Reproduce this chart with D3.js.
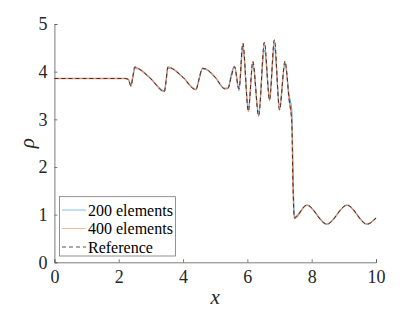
<!DOCTYPE html>
<html>
<head>
<meta charset="utf-8">
<script src="https://cdn.jsdelivr.net/npm/d3@7"></script>
<style>
  html, body { margin: 0; padding: 0; background: #fff; }
  svg { display: block; }
</style>
</head>
<body>
<svg id="chart" width="415" height="312" font-family="Liberation Serif"></svg>
<script>
// ---- data ----
const xs = [0, 2.2, 2.3, 2.38, 2.44, 2.5, 2.6, 3.0, 3.42, 3.47, 3.53, 3.62, 4.0, 4.4, 4.5, 4.6, 4.7, 5.0, 5.3, 5.4, 5.5, 5.6, 5.74, 5.86, 6.03, 6.17, 6.35, 6.53, 6.69, 6.84, 7.0, 7.17, 7.3, 7.38, 7.42, 7.46, 7.85, 8.47, 9.1, 9.72, 10];
const rhoRef = [3.857, 3.857, 3.84, 3.70, 3.90, 4.10, 4.07, 3.85, 3.58, 3.80, 4.10, 4.08, 3.88, 3.62, 3.85, 4.07, 4.06, 3.88, 3.64, 3.65, 3.90, 4.10, 3.64, 4.60, 3.17, 4.22, 3.07, 4.62, 3.40, 4.67, 3.20, 4.22, 3.40, 2.95, 1.60, 0.93, 1.20, 0.80, 1.20, 0.80, 0.93];
const rho400 = [3.857, 3.857, 3.84, 3.69, 3.90, 4.10, 4.07, 3.85, 3.58, 3.80, 4.10, 4.08, 3.88, 3.62, 3.85, 4.07, 4.06, 3.88, 3.64, 3.65, 3.90, 4.11, 3.63, 4.58, 3.16, 4.21, 3.06, 4.61, 3.39, 4.66, 3.19, 4.21, 3.40, 2.98, 1.55, 0.92, 1.20, 0.80, 1.20, 0.80, 0.93];
const rho200 = [3.857, 3.857, 3.83, 3.72, 3.88, 4.06, 4.06, 3.85, 3.60, 3.78, 4.07, 4.07, 3.88, 3.63, 3.84, 4.06, 4.05, 3.88, 3.65, 3.66, 3.95, 4.12, 3.60, 4.50, 3.25, 4.15, 3.15, 4.45, 3.50, 4.50, 3.30, 4.15, 3.50, 3.20, 2.00, 0.95, 1.20, 0.80, 1.20, 0.80, 0.93];
const xTicks = [0, 2, 4, 6, 8, 10];
const yTicks = [0, 1, 2, 3, 4, 5];
const seriesNames = ["200 elements", "400 elements", "Reference"];

// ---- layout ----
const svg = d3.select("#chart");
const L = 54.4, R = 376, T = 24, B = 262.3;
const x = d3.scaleLinear().domain([0, 10]).range([L, R]);
const y = d3.scaleLinear().domain([0, 5]).range([B, T]);
const font = "Liberation Serif";
const axisColor = "#5a5a5a";

// axes
const gx = svg.append("g").attr("transform", `translate(0,${B})`)
  .call(d3.axisBottom(x).tickValues(xTicks).tickSize(-3).tickPadding(8).tickFormat(d3.format("d")));
const gy = svg.append("g").attr("transform", `translate(${L},0)`)
  .call(d3.axisLeft(y).tickValues(yTicks).tickSize(-3).tickPadding(7).tickFormat(d3.format("d")));
[gx, gy].forEach(g => {
  g.attr("font-family", font).attr("font-size", 18);
  g.select(".domain").attr("stroke", axisColor).attr("stroke-width", 0.8);
  g.selectAll(".tick line").attr("stroke", axisColor).attr("stroke-width", 0.8);
  g.selectAll(".tick text").attr("fill", "#262626").attr("font-family", font).attr("font-size", 18);
});

// axis labels
svg.append("text").attr("x", (L + R) / 2).attr("y", 304)
  .attr("text-anchor", "middle").attr("font-family", font).attr("font-style", "italic")
  .attr("font-size", 21).attr("fill", "#262626").text("x");
svg.append("text").attr("transform", `translate(34,${(T + B) / 2}) rotate(-90)`)
  .attr("text-anchor", "middle").attr("font-family", font).attr("font-style", "italic")
  .attr("font-size", 21).attr("fill", "#262626").text("ρ");

// lines
const line = d3.line().curve(d3.curveMonotoneX);
const mk = arr => xs.map((v, i) => [x(v), y(arr[i])]);
const styles = [
  { data: rho200, stroke: "#4da6e0", width: 1.1, dash: null },
  { data: rho400, stroke: "#ec8f68", width: 1.3, dash: null },
  { data: rhoRef, stroke: "#333333", width: 1.0, dash: "4,3" }
];
styles.forEach(s => {
  svg.append("path").attr("d", line(mk(s.data))).attr("fill", "none")
    .attr("stroke", s.stroke).attr("stroke-width", s.width)
    .attr("stroke-dasharray", s.dash);
});

// legend
const lg = svg.append("g");
lg.append("rect").attr("x", 59.5).attr("y", 196.7).attr("width", 116).attr("height", 59.3)
  .attr("fill", "#fff").attr("stroke", "#777").attr("stroke-width", 0.8);
const legendStyles = [
  { stroke: "#7fbfe8", dash: null },
  { stroke: "#f3b8a0", dash: null },
  { stroke: "#555", dash: "4,3" }
];
seriesNames.forEach((name, i) => {
  const yy = 210 + i * 18.5;
  lg.append("line").attr("x1", 62).attr("x2", 86).attr("y1", yy).attr("y2", yy)
    .attr("stroke", legendStyles[i].stroke).attr("stroke-width", 1)
    .attr("stroke-dasharray", legendStyles[i].dash);
  lg.append("text").attr("x", 88).attr("y", yy + 5.5)
    .attr("font-family", font).attr("font-size", 16).attr("fill", "#000").text(name);
});
</script>
</body>
</html>
